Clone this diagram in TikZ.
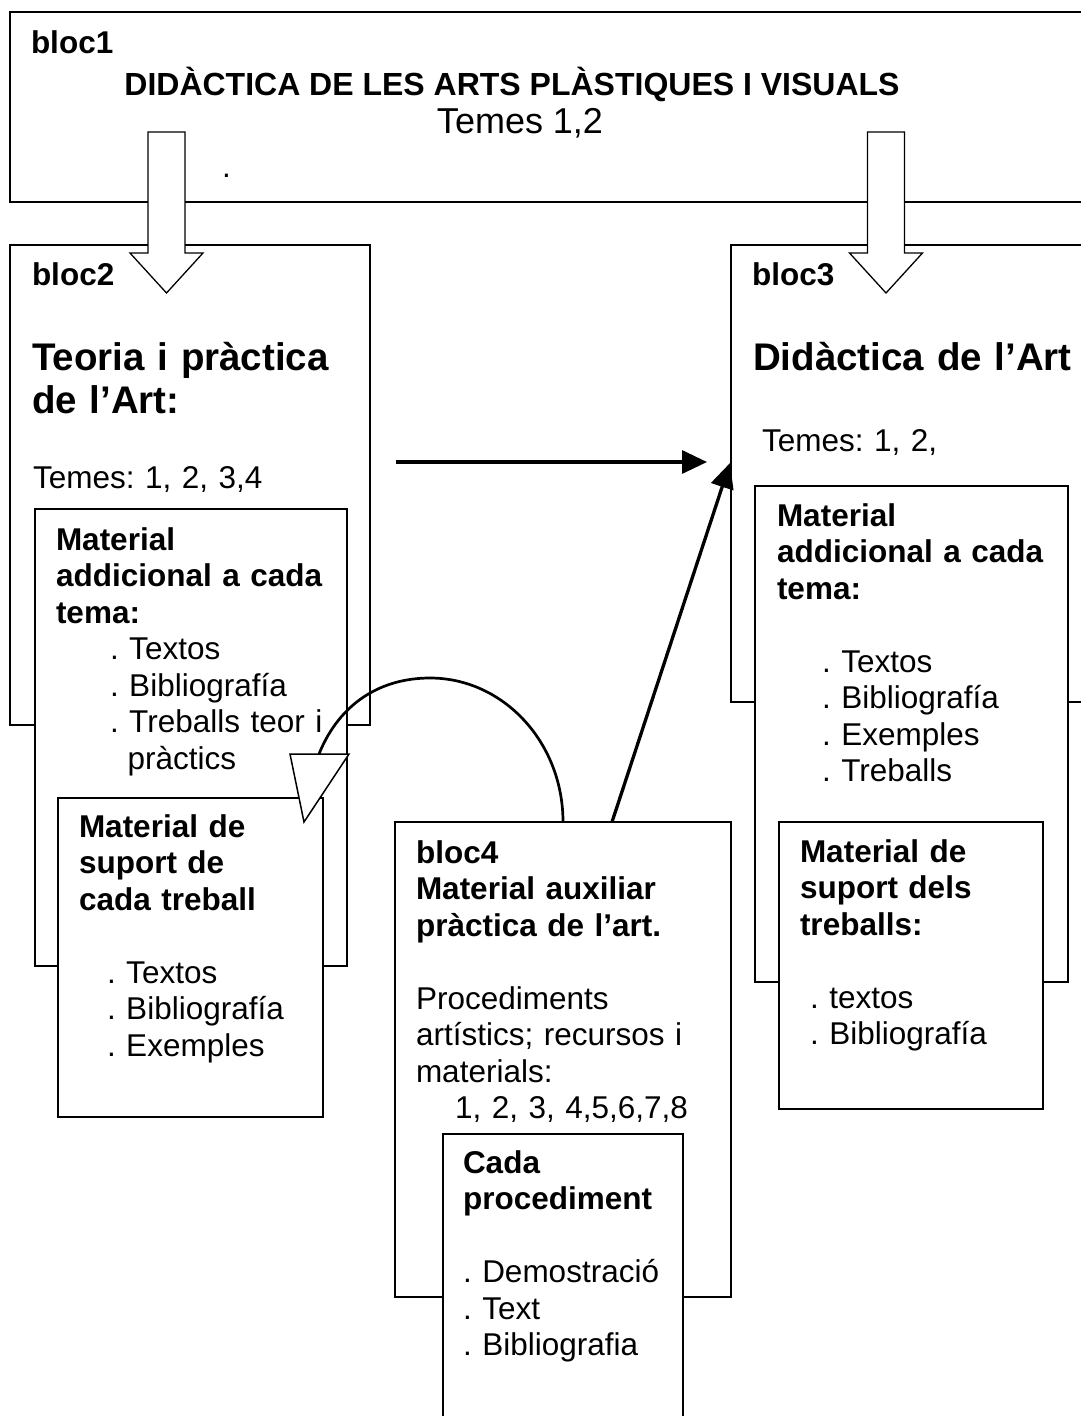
\documentclass[tikz,border=0pt]{standalone}
\usepackage{fontspec}
\setmainfont{Liberation Sans}
\usetikzlibrary{arrows.meta,calc}
\frenchspacing
\newcommand\fbody{\fontsize{31.5pt}{36.5pt}\selectfont\frenchspacing}
\newcommand\fhead{\fontsize{38.5pt}{43pt}\selectfont\bfseries\frenchspacing}
\newcommand\ftitle{\fontsize{32pt}{36pt}\selectfont\bfseries\frenchspacing}
\newcommand\ftemes{\fontsize{36pt}{40pt}\selectfont\frenchspacing}
\begin{document}
\begin{tikzpicture}[x=1pt,y=-1pt,
  box/.style={draw, line width=2pt, fill=white, inner sep=0pt, outer sep=0pt, anchor=north west},
  hb/.style={anchor=base west, inner sep=0pt, outer sep=0pt, text width=420pt, align=left, font=\fbody\bfseries},
  hr/.style={anchor=base west, inner sep=0pt, outer sep=0pt, text width=420pt, align=left, font=\fbody},
  hh/.style={anchor=base west, inner sep=0pt, outer sep=0pt, text width=420pt, align=left, font=\fhead},
  blockarr/.style={draw, line width=1.3pt, fill=white, line join=miter},
  arr/.style={line width=3.3pt, -{Triangle[length=25pt,width=23pt]}},
  curvearr/.style={line width=2.7pt},
  openhead/.style={draw, line width=1.5pt, fill=white, line join=miter}
]
\useasboundingbox (0,0) rectangle (1081,1416);
\fill[white] (0,0) rectangle (1081,1416);
\clip (0,0) rectangle (1081,1416);

% main blocks
\node[box, minimum width=1085pt, minimum height=190pt] (bloc1) at (10,12) {};
\node[box, minimum width=360pt, minimum height=480pt] (bloc2) at (10,245) {};
\node[box, minimum width=400pt, minimum height=457pt] (bloc3) at (731,245) {};

% hollow block arrows from bloc1 to bloc2 and bloc3
\coordinate (a1) at (166.5,132);
\coordinate (a2) at (886,132);
\foreach \c in {a1,a2}{
  \draw[blockarr] ($(\c)+(-18.5,0)$) -- ($(\c)+(18.5,0)$) -- ($(\c)+(18.5,121)$)
    -- ($(\c)+(36.5,121)$) -- ($(\c)+(0,161)$) -- ($(\c)+(-36.5,121)$)
    -- ($(\c)+(-18.5,121)$) -- cycle;
}

% inner boxes
\node[box, minimum width=312pt, minimum height=457pt] (boxA) at (35,509) {};
\node[box, minimum width=265pt, minimum height=319pt] (boxB) at (58,798) {};
\node[box, minimum width=313pt, minimum height=496pt] (boxC) at (755,486) {};
\node[box, minimum width=264pt, minimum height=287pt] (boxD) at (779,822) {};
\node[box, minimum width=336pt, minimum height=475pt] (bloc4) at (395,822) {};
\node[box, minimum width=240pt, minimum height=300pt] (boxE) at (443,1134) {};

% bloc1 texts
\node[hb] (t1) at (31,53) {bloc1};
\node[anchor=base, inner sep=0pt, font=\ftitle] (t1a) at (512,95) {DIDÀCTICA DE LES ARTS PLÀSTIQUES I VISUALS};
\node[anchor=base, inner sep=0pt, font=\ftemes] (t1b) at (520,133) {Temes 1,2};
\node[hr] (t1c) at (222,177) {.};

% bloc2 texts
\node[hb] (t2) at (32,285) {bloc2};
\node[hh] (t2a) at (32,370) {Teoria i pràctica\\de l’Art:};
\node[hr] (t2b) at (33,488) {Temes: 1, 2, 3,4};
\node[hb] (tA) at (56,550) {Material\\addicional a cada\\tema:};
\node[hr] (tA2) at (110,659.5) {. Textos\\. Bibliografía\\. Treballs teor i\\\hspace*{17.5pt}pràctics};
\node[hb] (tB) at (79,837) {Material de\\suport de\\cada treball};
\node[hr] (tB2) at (107,983) {. Textos\\. Bibliografía\\. Exemples};

% bloc3 texts
\node[hb] (t3) at (752,285) {bloc3};
\node[hh] (t3a) at (753,370) {Didàctica de l’Art};
\node[hr] (t3b) at (762,451) {Temes: 1, 2,};
\node[hb] (tC) at (777,526) {Material\\addicional a cada\\tema:};
\node[hr] (tC2) at (822,672) {. Textos\\. Bibliografía\\. Exemples\\. Treballs};
\node[hb] (tD) at (800,862) {Material de\\suport dels\\treballs:};
\node[hr] (tD2) at (810,1008) {. textos\\. Bibliografía};

% bloc4 texts
\node[hb] (t4) at (416,863) {bloc4\\Material auxiliar\\pràctica de l’art.};
\node[hr] (t4a) at (416,1009) {Procediments\\artístics; recursos i\\materials:};
\node[hr] (t4b) at (455,1118.5) {1, 2, 3, 4,5,6,7,8};
\node[hb] (tE) at (463,1173) {Cada\\procediment};
\node[hr] (tE2) at (463,1282.5) {. Demostració\\. Text\\. Bibliografia};

% connectors
\draw[arr] ($(bloc2.north east)+(26,217)$) -- ($(bloc3.north west)+(-24,217)$);
\draw[arr] ($(bloc4.north west)+(217,0)$) -- ($(bloc3.north west)+(-1,218)$);

\coordinate (tipB) at ($(boxB.north east)+(-19,24)$);
\coordinate (cstart) at ($(bloc4.north west)+(168,0)$);
\coordinate (ctop) at ($(cstart)+(-133,-144)$);
\coordinate (cend) at ($(tipB)+(15,-68)$);
\draw[curvearr] (cstart) .. controls ($(cstart)+(0,-80)$) and ($(ctop)+(73,0)$) .. (ctop)
  .. controls ($(ctop)+(-48,0)$) and ($(cend)+(21,-52)$) .. (cend);
\draw[openhead] ($(tipB)+(-14,-68)$) -- ($(tipB)+(45,-68)$) -- (tipB) -- cycle;
\end{tikzpicture}
\end{document}
